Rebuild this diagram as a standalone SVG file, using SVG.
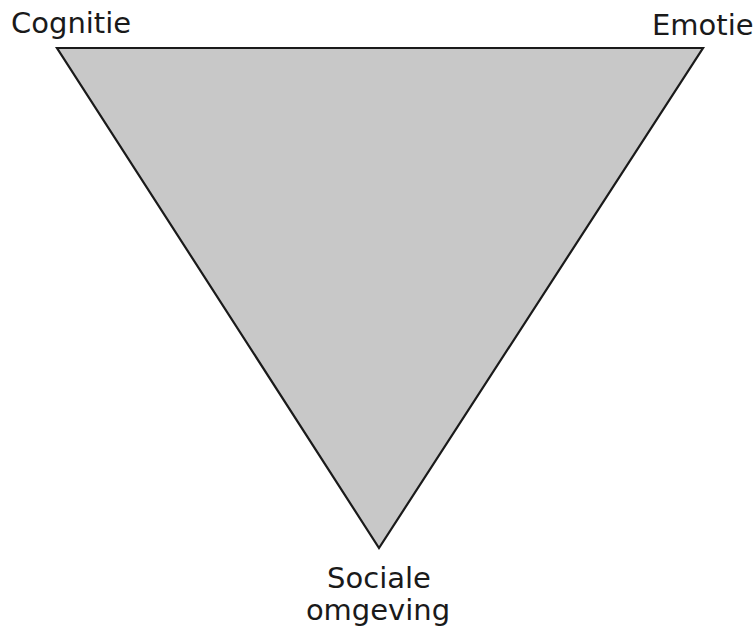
<svg xmlns="http://www.w3.org/2000/svg" width="756" height="629" viewBox="0 0 756 629">
<style>
.lbl{font-family:"DejaVu Sans",Verdana,sans-serif;font-size:29px;fill:#1a1a1a}
.tri{fill:#c8c8c8;stroke:#1a1a1a;stroke-width:2.2;stroke-linejoin:miter}
</style>
<rect width="756" height="629" fill="#ffffff"/>
<g id="triangle"><polygon class="tri" points="57,48 703,48 379,548"/></g>
<g id="cognitie"><text class="lbl" x="11" y="33">Cognitie</text></g>
<g id="emotie"><text class="lbl" x="652" y="35">Emotie</text></g>
<g id="sociale"><text class="lbl" text-anchor="middle" x="379" y="588">Sociale</text><text class="lbl" text-anchor="middle" x="378" y="620">omgeving</text></g>
</svg>
